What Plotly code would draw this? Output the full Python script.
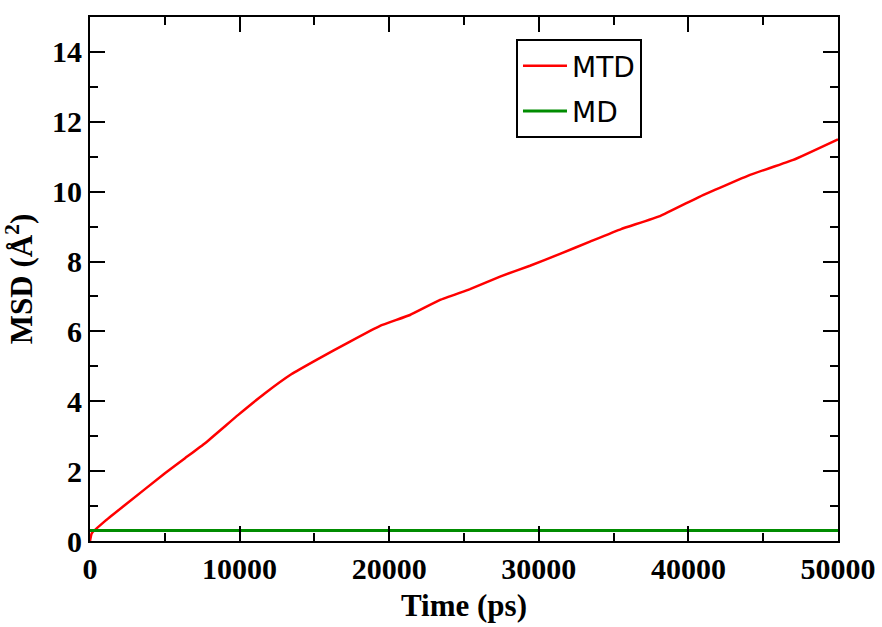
import plotly.graph_objects as go

time_mtd = [0, 113, 1000, 2340, 5010, 6350, 7690, 9910, 11700, 13480, 15200, 17380,
            19390, 21390, 23400, 25400, 27410, 29410, 31420, 33420, 35500, 38100,
            40770, 44120, 47010, 50000]
msd_mtd = [0.0, 0.22, 0.57, 1.03, 1.94, 2.37, 2.80, 3.61, 4.23, 4.78, 5.20, 5.71,
           6.16, 6.47, 6.90, 7.21, 7.57, 7.88, 8.22, 8.57, 8.93, 9.30,
           9.86, 10.48, 10.91, 11.50]
time_md = [0, 50000]
msd_md = [0.3, 0.3]

xticks = [0, 10000, 20000, 30000, 40000, 50000]
xticklabels = ["0", "10000", "20000", "30000", "40000", "50000"]
yticks = [0, 2, 4, 6, 8, 10, 12, 14]
yticklabels = ["0", "2", "4", "6", "8", "10", "12", "14"]

fig = go.Figure()
fig.add_trace(go.Scatter(x=time_mtd, y=msd_mtd, mode="lines", name="MTD", legendgroup="a",
                         line=dict(color="#ff0000", width=2.5, shape="spline", smoothing=0.3)))
fig.add_trace(go.Scatter(x=time_md, y=msd_md, mode="lines", name="MD", legendgroup="b",
                         line=dict(color="#008c00", width=3)))

tickfont = dict(family="Liberation Serif", size=30, color="black", weight="bold")
titlefont = dict(family="Liberation Serif", size=31, color="black", weight="bold")
axis_common = dict(showline=True, linecolor="black", linewidth=2, mirror="allticks",
                   ticks="inside", ticklen=15, tickwidth=2, tickcolor="black",
                   showgrid=False, zeroline=False, tickfont=tickfont, automargin=False)

fig.update_xaxes(range=[0, 50000], tickvals=xticks, ticktext=xticklabels,
                 minor=dict(ticks="inside", ticklen=8, tickwidth=2, tickcolor="black", dtick=5000),
                 title=dict(text="Time (ps)", font=titlefont, standoff=10),
                 **axis_common)
fig.update_yaxes(range=[0, 15], tickvals=yticks, ticktext=yticklabels,
                 minor=dict(ticks="inside", ticklen=8, tickwidth=2, tickcolor="black", dtick=1),
                 title=dict(text="MSD (Å<sup>2</sup>)", font=titlefont, standoff=10),
                 **axis_common)

fig.update_layout(
    width=882, height=627,
    margin=dict(l=90, r=44, t=17, b=86),
    plot_bgcolor="white", paper_bgcolor="white",
    legend=dict(x=0.5695, y=0.958, xanchor="left", yanchor="top",
                bordercolor="black", borderwidth=2, bgcolor="white",
                traceorder="grouped", tracegroupgap=6, itemwidth=44,
                font=dict(family="DejaVu Sans", size=28, color="black")),
)

fig.write_html("out.html")
